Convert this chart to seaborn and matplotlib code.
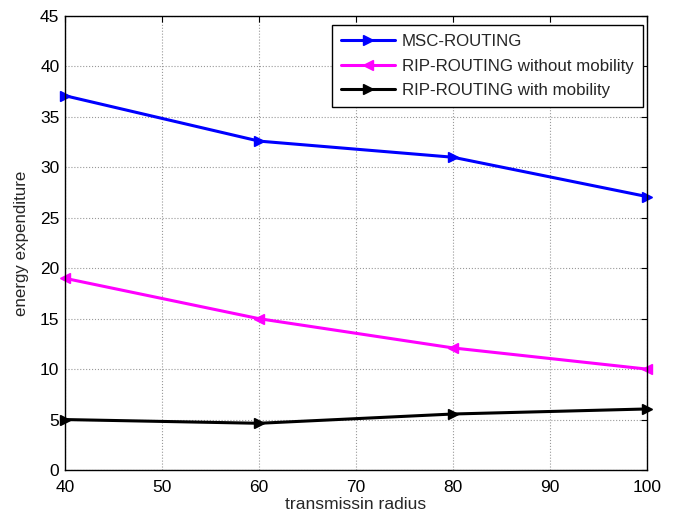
import matplotlib
matplotlib.use("Agg")
import matplotlib.pyplot as plt
import seaborn as sns
import pandas as pd

radius = [40, 60, 80, 100]
msc = [37.1, 32.6, 31.0, 27.1]
rip_without = [19.0, 15.0, 12.1, 10.0]
rip_with = [5.0, 4.63, 5.55, 6.05]
series_names = ["MSC-ROUTING", "RIP-ROUTING without mobility", "RIP-ROUTING with mobility"]
colors = ["#0000ff", "#ff00ff", "#000000"]
markers = [">", "<", ">"]

sns.set_style("white")
plt.rcParams['font.family'] = ['Liberation Sans', 'DejaVu Sans']

df = pd.DataFrame({
    "radius": radius * 3,
    "energy": msc + rip_without + rip_with,
    "series": [series_names[0]] * 4 + [series_names[1]] * 4 + [series_names[2]] * 4,
})

fig = plt.figure(figsize=(6.74, 5.15), dpi=100)
ax = fig.add_axes([65/674, 1-470/515, (647-65)/674, (470-16)/515])

sns.lineplot(data=df, x="radius", y="energy", hue="series", style="series",
             palette=dict(zip(series_names, colors)),
             markers=dict(zip(series_names, markers)),
             dashes=False, linewidth=2.2, markersize=6.5,
             ax=ax, legend=False)

for line, c, name in zip(ax.get_lines(), colors, series_names):
    line.set_markeredgecolor(c)
    line.set_markerfacecolor(c)
    line.set_markeredgewidth(1.0)
    line.set_clip_on(False)
    line.set_label(name)

ax.set_xlim(40, 100)
ax.set_ylim(0, 45)
ax.set_xticks([40, 50, 60, 70, 80, 90, 100])
ax.set_yticks(range(0, 46, 5))
ax.grid(True, linestyle=":", color="#999999", linewidth=0.8)
ax.set_axisbelow(True)
ax.tick_params(direction="in", length=4, top=True, right=True, labelsize=12.5, colors="black")
ax.tick_params(axis="x", pad=7)
ax.tick_params(axis="y", pad=4)
for s in ax.spines.values():
    s.set_color("black")
    s.set_linewidth(1.0)
    s.set_visible(True)
ax.set_xlabel("transmissin radius", fontsize=12.6)
ax.set_ylabel("energy expenditure", fontsize=12.2)
ax.xaxis.set_label_coords(0.5, (470 - 497) / 454)
ax.yaxis.set_label_coords((29 - 65) / 582, 0.5)

leg = ax.legend(handles=ax.get_lines(), labels=series_names,
                loc="upper right", bbox_to_anchor=((643 - 65) / 582, (470 - 25) / 454),
                borderaxespad=0, fontsize=12.2, frameon=True, fancybox=False,
                edgecolor="black", framealpha=1, borderpad=0.55, labelspacing=0.55,
                handlelength=3.2, handletextpad=0.4)
leg.get_frame().set_linewidth(1.0)

fig.savefig("out.png", dpi=100)
